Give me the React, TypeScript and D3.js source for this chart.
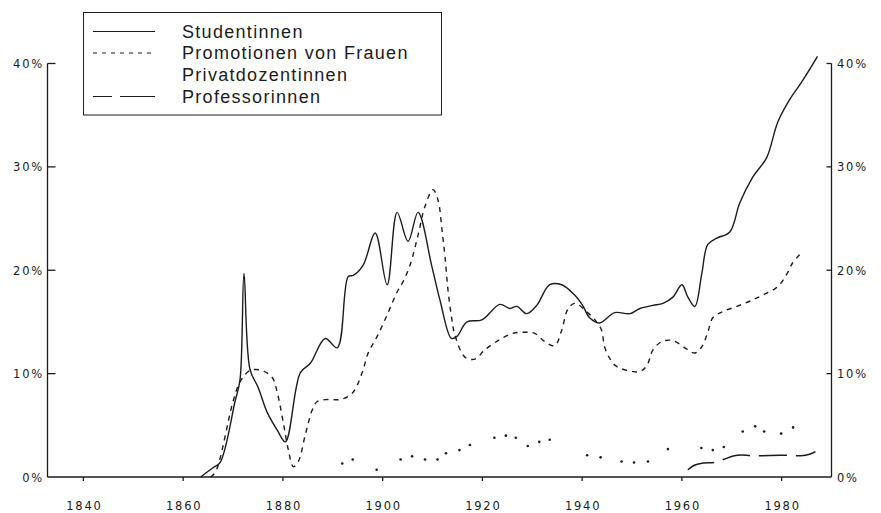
import * as d3 from "d3";

const W = 881;
const H = 513;

// Studentinnen (solid)
const studYears = [
  1863.5, 1866.0, 1867.4, 1870.4, 1871.4, 1872.2, 1873.4, 1875.0, 1876.9, 1878.9,
  1880.5, 1883.5, 1885.5, 1888.5, 1890.9, 1893.1, 1894.1, 1896.1, 1898.5, 1900.9,
  1902.9, 1905.1, 1907.1, 1909.9, 1911.5, 1913.8, 1914.9, 1916.9, 1919.9, 1923.5,
  1925.5, 1926.9, 1928.9, 1930.9, 1933.5, 1935.9, 1938.5, 1940.1, 1941.5, 1943.5,
  1946.5, 1949.6, 1951.6, 1954.2, 1956.2, 1958.2, 1960.0, 1961.2, 1962.6, 1964.0,
  1965.2, 1967.0, 1969.6, 1971.6, 1974.2, 1977.0, 1979.2, 1981.6, 1984.0, 1987.2,
];
const studValues = [
  0, 0.9, 1.4, 7.3, 9.4, 19.7, 10.4, 8.7, 6.2, 4.5,
  3.4, 10.1, 11.0, 13.4, 12.5, 19.4, 19.5, 20.5, 23.6, 18.6,
  25.6, 22.8, 25.6, 20.3, 17.1, 13.4, 13.6, 15.0, 15.2, 16.7,
  16.3, 16.5, 15.8, 16.6, 18.6, 18.6, 17.6, 16.6, 15.4, 14.9,
  15.9, 15.8, 16.3, 16.6, 16.8, 17.4, 18.6, 17.4, 16.5, 19.7,
  22.5, 23.1, 23.7, 26.5, 29.0, 30.9, 34.3, 36.5, 38.2, 40.7,
];

// Promotionen von Frauen (short dashes)
const promYears = [
  1865.5, 1866.5, 1870.0, 1871.4, 1873.4, 1875.8, 1877.9, 1878.9, 1880.1, 1881.1,
  1882.1, 1883.1, 1884.5, 1885.9, 1886.9, 1889.1, 1891.5, 1893.9, 1895.9, 1897.1,
  1898.9, 1901.1, 1902.9, 1904.1, 1905.5, 1907.1, 1908.5, 1910.1, 1911.1, 1911.9,
  1912.5, 1913.1, 1913.9, 1914.5, 1916.5, 1918.5, 1920.5, 1923.5, 1926.1, 1928.5,
  1930.5, 1932.5, 1934.5, 1935.9, 1937.1, 1938.5, 1940.9, 1942.9, 1943.9, 1944.5,
  1945.5, 1946.9, 1949.2, 1951.6, 1953.0, 1954.2, 1956.0, 1958.2, 1960.6, 1962.6,
  1964.0, 1965.2, 1966.2, 1968.2, 1971.0, 1973.6, 1976.2, 1979.2, 1981.0, 1982.2,
  1983.6,
];
const promValues = [
  0, 0.5, 7.3, 9.2, 10.3, 10.3, 9.6, 8.1, 5.2, 2.6,
  1.0, 1.5, 4.1, 6.5, 7.3, 7.5, 7.5, 8.1, 10.1, 12.0,
  13.6, 15.9, 17.9, 18.9, 20.5, 23.4, 26.2, 27.8, 26.8, 23.9,
  21.3, 18.1, 15.2, 13.7, 11.6, 11.4, 12.3, 13.3, 13.9, 14.0,
  13.9, 13.1, 12.7, 14.2, 16.2, 16.8, 16.0, 15.0, 14.2, 12.6,
  11.5, 10.7, 10.3, 10.2, 10.8, 12.3, 13.1, 13.2, 12.5, 12.0,
  12.6, 14.0, 15.4, 16.0, 16.5, 17.0, 17.6, 18.4, 19.6, 20.7,
  21.5,
];

// Privatdozentinnen (dots)
const privYears = [
  1891.9, 1894.0, 1898.8, 1903.6, 1905.9, 1908.5, 1911.0, 1912.7, 1915.4, 1917.5,
  1922.4, 1924.7, 1926.7, 1929.1, 1931.4, 1933.5, 1941.0, 1943.7, 1947.9, 1950.4,
  1953.2, 1957.2, 1963.9, 1966.2, 1968.4, 1972.2, 1974.7, 1976.5, 1979.9, 1982.3,
];
const privValues = [
  1.3, 1.7, 0.7, 1.7, 2.0, 1.7, 1.7, 2.3, 2.6, 3.1,
  3.8, 4.0, 3.8, 3.0, 3.4, 3.6, 2.1, 1.9, 1.5, 1.4,
  1.5, 2.7, 2.8, 2.6, 2.9, 4.4, 4.9, 4.4, 4.2, 4.8,
];

// Professorinnen (long dashes)
const profYears = [
  1961.2, 1962.6, 1964.3, 1966.6, 1968.4, 1970.3, 1971.9, 1973.9, 1975.9, 1979.6,
  1981.6, 1983.9, 1985.6, 1986.8,
];
const profValues = [
  0.7, 1.16, 1.36, 1.42, 1.71, 2.03, 2.13, 2.06, 2.06, 2.1,
  2.1, 2.06, 2.2, 2.45,
];

const yearTicks = [1840, 1860, 1880, 1900, 1920, 1940, 1960, 1980];
const pctTicks = [0, 10, 20, 30, 40];
const pctLabels = ["0%", "10%", "20%", "30%", "40%"];

const legendNames = [
  "Studentinnen",
  "Promotionen von Frauen",
  "Privatdozentinnen",
  "Professorinnen",
];

const INK = "#1c1c1c";
const FONT = "'Liberation Sans', Arial, sans-serif";
const TICK_FONT = "'DejaVu Sans', sans-serif";

export default function App() {
  const left = 47.5;
  const right = 831.5;
  const bottom = 477;
  const top = 63.5;

  const x = d3.scaleLinear().domain([1832.8, 1990]).range([left, right]);
  const y = d3.scaleLinear().domain([0, 40]).range([bottom, top]);

  const line = d3
    .line<[number, number]>()
    .x((d) => x(d[0]))
    .y((d) => y(d[1]))
    .curve(d3.curveCatmullRom.alpha(0.5));

  const stud = line(d3.zip(studYears, studValues) as [number, number][]) ?? "";
  const prom = line(d3.zip(promYears, promValues) as [number, number][]) ?? "";
  const prof = line(d3.zip(profYears, profValues) as [number, number][]) ?? "";

  // legend row baselines and sample styles
  const legendBase = [37.5, 59, 81, 102.5];
  const samples = [
    { dash: undefined as string | undefined, show: true },
    { dash: "4 5", show: true },
    { dash: undefined, show: false },
    { dash: "19 8 35", show: true },
  ];

  return (
    <svg
      width={W}
      height={H}
      style={{ position: "absolute", left: 0, top: 0, background: "#fff" }}
    >
      {/* frame */}
      <g stroke={INK} strokeWidth={1.3} fill="none">
        <line x1={left} y1={top} x2={left} y2={bottom} />
        <line x1={right} y1={top} x2={right} y2={bottom} />
        <line x1={left} y1={bottom} x2={right} y2={bottom} />
        {pctTicks.slice(1).map((t) => (
          <g key={t}>
            <line x1={left} x2={left + 8} y1={y(t)} y2={y(t)} />
            <line x1={right - 5} x2={right} y1={y(t)} y2={y(t)} />
          </g>
        ))}
        {yearTicks.map((t) => (
          <line key={t} x1={x(t)} x2={x(t)} y1={bottom} y2={bottom + 4} />
        ))}
      </g>

      {/* tick labels */}
      <g fill={INK} fontFamily={TICK_FONT} fontSize={11.5} letterSpacing={1.8}>
        {pctTicks.map((t, i) => (
          <text key={"l" + t} x={44} y={y(t) + 4.5} textAnchor="end">
            {pctLabels[i]}
          </text>
        ))}
        {pctTicks.map((t, i) => (
          <text key={"r" + t} x={837} y={y(t) + 4.5}>
            {pctLabels[i]}
          </text>
        ))}
        {yearTicks.map((t) => (
          <text key={t} x={x(t) + 1} y={510} textAnchor="middle">
            {t}
          </text>
        ))}
      </g>

      {/* series */}
      <path d={stud} fill="none" stroke={INK} strokeWidth={1.4} />
      <path d={prom} fill="none" stroke={INK} strokeWidth={1.4} strokeDasharray="5 5" />
      <path d={prof} fill="none" stroke={INK} strokeWidth={1.5} strokeDasharray="28 9" />
      <g fill={INK}>
        {privYears.map((yr, i) => (
          <circle key={yr} cx={x(yr)} cy={y(privValues[i])} r={1.3} />
        ))}
      </g>

      {/* legend */}
      <rect x={83.5} y={12.5} width={358} height={102.5} fill="#fff" stroke={INK} strokeWidth={1} />
      {legendNames.map((name, i) => (
        <g key={name}>
          {samples[i].show && (
            <line
              x1={93}
              x2={155}
              y1={legendBase[i] - 6}
              y2={legendBase[i] - 6}
              stroke={INK}
              strokeWidth={1.2}
              strokeDasharray={samples[i].dash}
            />
          )}
          <text
            x={182}
            y={legendBase[i]}
            fill={INK}
            fontFamily={FONT}
            fontSize={18}
            letterSpacing={1.3}
          >
            {name}
          </text>
        </g>
      ))}
    </svg>
  );
}
